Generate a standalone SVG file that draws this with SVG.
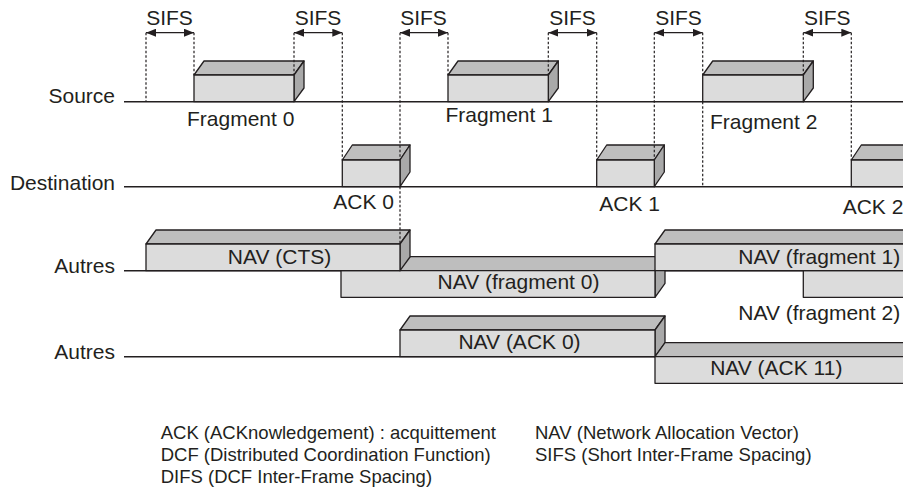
<svg xmlns="http://www.w3.org/2000/svg" width="903" height="487" viewBox="0 0 903 487">
<defs>
<style>
text{font-family:"Liberation Sans",Arial,sans-serif;fill:#231f20}
.lbl{font-size:21px}
.leg{font-size:18.5px}
.end{text-anchor:end}
.mid{text-anchor:middle}
.tl{stroke:#231f20;stroke-width:1.5;fill:none}
.front{fill:#dcdcdc;stroke:#231f20;stroke-width:1.3;stroke-linejoin:round}
.top{fill:#bebebe;stroke:#231f20;stroke-width:1.3;stroke-linejoin:round}
.side{fill:#a9a9a9;stroke:#231f20;stroke-width:1.3;stroke-linejoin:round}
.dot{stroke:#231f20;stroke-width:1.2;stroke-dasharray:2.5 2;fill:none}
.arr{stroke:#231f20;stroke-width:1.3;fill:none;marker-start:url(#ah);marker-end:url(#ah)}
</style>
<marker id="ah" viewBox="0 0 10 8" refX="10" refY="4" markerWidth="10" markerHeight="8" markerUnits="userSpaceOnUse" orient="auto-start-reverse">
<path d="M0,0 L10,4 L0,8 Z" fill="#231f20"/>
</marker>
</defs>
<rect width="903" height="487" fill="#ffffff"/>

<g id="timelines">
<line class="tl" x1="124" y1="101.7" x2="903" y2="101.7"/>
<line class="tl" x1="124" y1="186.7" x2="903" y2="186.7"/>
<line class="tl" x1="124" y1="270.7" x2="903" y2="270.7"/>
<line class="tl" x1="124" y1="356.7" x2="903" y2="356.7"/>
<text class="lbl end" x="115" y="103">Source</text>
<text class="lbl end" x="115" y="189.5">Destination</text>
<text class="lbl end" x="115" y="272.5">Autres</text>
<text class="lbl end" x="115" y="358.5">Autres</text>
</g>

<g id="fragment0">
<polygon class="top" points="194,75 204,61 304,61 294,75"/>
<polygon class="side" points="294,75 304,61 304,88 294,101.7"/>
<rect class="front" x="194" y="75" width="100" height="26.7"/>
<text class="lbl" x="187" y="125.5">Fragment 0</text>
</g>
<g id="fragment1">
<polygon class="top" points="448,75 458,61 558.3,61 548.3,75"/>
<polygon class="side" points="548.3,75 558.3,61 558.3,88 548.3,101.7"/>
<rect class="front" x="448" y="75" width="100.3" height="26.7"/>
<text class="lbl" x="445.5" y="121.7">Fragment 1</text>
</g>
<g id="fragment2">
<polygon class="top" points="702.7,75 712.7,61 813.3,61 803.3,75"/>
<polygon class="side" points="803.3,75 813.3,61 813.3,88 803.3,101.7"/>
<rect class="front" x="702.7" y="75" width="100.6" height="26.7"/>
<text class="lbl" x="710" y="128.5">Fragment 2</text>
</g>

<g id="ack0">
<polygon class="top" points="342.3,160 352.3,145 410,145 400,160"/>
<polygon class="side" points="400,160 410,145 410,172 400,186.7"/>
<rect class="front" x="342.3" y="160" width="57.7" height="26.7"/>
<text class="lbl" x="333.3" y="208.5">ACK 0</text>
</g>
<g id="ack1">
<polygon class="top" points="596.7,160 606.7,145 664.3,145 654.3,160"/>
<polygon class="side" points="654.3,160 664.3,145 664.3,172 654.3,186.7"/>
<rect class="front" x="596.7" y="160" width="57.6" height="26.7"/>
<text class="lbl" x="599.3" y="211">ACK 1</text>
</g>
<g id="ack2">
<polygon class="top" points="851.3,160 861.3,145 920,145 910,160"/>
<rect class="front" x="851.3" y="160" width="60" height="26.7"/>
<text class="lbl" x="842.7" y="213.5">ACK 2</text>
</g>

<g id="nav-fragment0">
<polygon class="top" points="341,270.7 351,256.7 665,256.7 655,270.7"/>
<polygon class="side" points="655,270.7 665,256.7 665,283.3 655,297.3"/>
<rect class="front" x="341" y="270.7" width="314" height="26.6" stroke-width="1"/>
<text class="lbl mid" x="518.5" y="288.5">NAV (fragment 0)</text>
</g>
<g id="nav-cts">
<polygon class="top" points="146,244 156,230 410,230 400,244"/>
<polygon class="side" points="400,244 410,230 410,257 400,270.7"/>
<rect class="front" x="146" y="244" width="254" height="26.7"/>
<text class="lbl mid" x="279.5" y="264">NAV (CTS)</text>
</g>
<g id="nav-fragment2">
<rect class="front" x="803.3" y="270.7" width="110" height="26.6" stroke-width="1"/>
<text class="lbl" x="738.3" y="320">NAV (fragment 2)</text>
</g>
<g id="nav-fragment1">
<polygon class="top" points="655,244 665,230 920,230 910,244"/>
<rect class="front" x="655" y="244" width="258" height="26.7"/>
<text class="lbl" x="738.3" y="263.5">NAV (fragment 1)</text>
</g>
<g id="nav-ack0">
<polygon class="top" points="400,330 410,316 665,316 655,330"/>
<polygon class="side" points="655,330 665,316 665,343 655,356.7"/>
<rect class="front" x="400" y="330" width="255" height="26.7"/>
<text class="lbl mid" x="519.5" y="348.5">NAV (ACK 0)</text>
</g>
<g id="nav-ack11">
<polygon class="top" points="655,356.7 665,342.7 920,342.7 910,356.7"/>
<rect class="front" x="655" y="356.7" width="258" height="26.6" stroke-width="1"/>
<text class="lbl mid" x="776.3" y="375">NAV (ACK 11)</text>
</g>

<g id="connectors">
<line class="dot" x1="146" y1="32.7" x2="146" y2="101.7"/>
<line class="dot" x1="194" y1="32.7" x2="194" y2="75"/>
<line class="dot" x1="294" y1="32.7" x2="294" y2="75"/>
<line class="dot" x1="342.3" y1="32.7" x2="342.3" y2="160"/>
<line class="dot" x1="400" y1="32.7" x2="400" y2="160"/>
<line class="dot" x1="400" y1="186.7" x2="400" y2="244"/>
<line class="dot" x1="448" y1="32.7" x2="448" y2="75"/>
<line class="dot" x1="548.3" y1="32.7" x2="548.3" y2="75"/>
<line class="dot" x1="596.7" y1="32.7" x2="596.7" y2="160"/>
<line class="dot" x1="654.3" y1="32.7" x2="654.3" y2="160"/>
<line class="dot" x1="702.7" y1="32.7" x2="702.7" y2="75"/>
<line class="dot" x1="702.7" y1="101.7" x2="702.7" y2="186.7"/>
<line class="dot" x1="803.3" y1="32.7" x2="803.3" y2="75"/>
<line class="dot" x1="851.3" y1="32.7" x2="851.3" y2="160"/>
<line class="arr" x1="146" y1="32.7" x2="194" y2="32.7"/>
<line class="arr" x1="294" y1="32.7" x2="342.3" y2="32.7"/>
<line class="arr" x1="400" y1="32.7" x2="448" y2="32.7"/>
<line class="arr" x1="548.3" y1="32.7" x2="596.7" y2="32.7"/>
<line class="arr" x1="654.3" y1="32.7" x2="702.7" y2="32.7"/>
<line class="arr" x1="803.3" y1="32.7" x2="851.3" y2="32.7"/>
<text class="lbl mid" x="169.5" y="25">SIFS</text>
<text class="lbl mid" x="318" y="25">SIFS</text>
<text class="lbl mid" x="423.5" y="25">SIFS</text>
<text class="lbl mid" x="572.5" y="25">SIFS</text>
<text class="lbl mid" x="678.5" y="25">SIFS</text>
<text class="lbl mid" x="827.3" y="25">SIFS</text>
</g>

<g id="legend">
<text class="leg" x="160.7" y="438.5">ACK (ACKnowledgement) : acquittement</text>
<text class="leg" x="160.7" y="460.7">DCF (Distributed Coordination Function)</text>
<text class="leg" x="160.7" y="482.7">DIFS (DCF Inter-Frame Spacing)</text>
<text class="leg" x="535" y="438.5">NAV (Network Allocation Vector)</text>
<text class="leg" x="535" y="460.7">SIFS (Short Inter-Frame Spacing)</text>
</g>
</svg>
